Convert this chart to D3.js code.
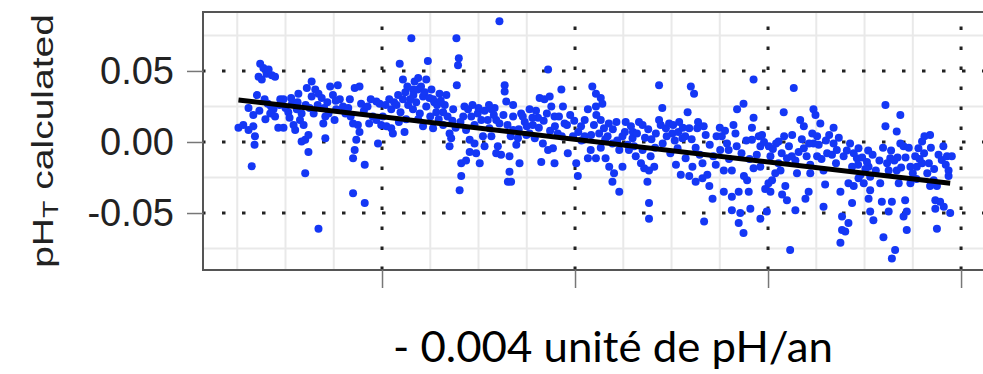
<!DOCTYPE html>
<html>
<head>
<meta charset="utf-8">
<script src="https://cdn.jsdelivr.net/npm/d3@7"></script>
<style>
  body { margin: 0; background: #fff; }
</style>
</head>
<body>
<svg id="chart"></svg>
<script>
// observations: [month since Jan 1996, pH_T anomaly]
var obs1996 = [[12.3,.010],[13.5,.012],[14.8,.0085],[16,.011],[16.4,.004],[16.3,-.002],[15.6,-.017],[14.8,.024],[16,.019],[16.9,.033],[17.7,.055],[18.5,.052],[17.3,.046],[19.3,.048],[20.6,.047],[21.4,.046],[18.1,.044],[19.8,.051],[21,.023],[21.4,.018],[22.2,.010],[23.5,.010],[22.7,.030],[24.7,.021],[26,.012],[26.4,.0085],[27.6,.0155],[28.5,.012],[28.9,.0015],[29.7,-.007],[29.7,.005],[28.9,-.022],[28,.0003],[29.3,.038],[30.5,.0425],[31.4,.037],[32.2,.034],[33,.031],[33.4,.013],[33.9,.0026],[35.1,.039],[34.7,.020],[32.2,-.061],[25.6,.027],[26.8,.023],[28,.020],[23.5,.030],[30.5,.032],[33.9,.018],
  [37,.040],[37.5,.030],[36.6,.023],[36.2,.0155],[38.3,.025],[40,.030],[41.2,.038],[42.4,.039],[42.8,.027],[40.8,.013],[42,.012],[42.4,.007],[41.6,.0015],[41.2,-.0056],[40.8,-.0115],[43.7,-.016],[40.8,-.036],[43.7,-.043],[46.6,.0285],[47.4,.027],[46.6,.0155],[47.8,.012],[47,-.001],[45.7,.018]];

var obs2000 = [[49.1,.011],[50.3,.0097],[50.7,.006],[53.6,.007],[52.4,.055],[55.3,.073],[53.2,.044],[56.1,.0425],[57,.045],[59,.044],[59.4,.057],[55.7,.037],[52,.033],[53.2,.030],[54.5,.026],[55.8,.033],[58.2,.032],[60.3,.037],[60.7,.030],[62.3,.034],[63.6,.026],[64,.033],[61.5,.021],[58.2,.011],[60.7,.0097],[63.2,.012],[64.8,.006],[65.2,.0026],[64.8,-.003],[50.3,.023],[51.6,.026],[55.7,.023],[57.4,.020],[66.5,.073],[66.9,.054],[67.1,.059],[66.6,.040],[67.7,-.015],[67.3,-.034],[67.7,-.024],[65.7,.023],[59,.025],[48.2,.018],
  [77.2,.085],[89.3,.051],[68.5,.025],[69.4,.023],[70.2,.018],[71,.012],[68.9,.0085],[69.8,.0015],[71,-.001],[71.4,-.008],[68.9,-.013],[69.8,-.007],[72.3,-.015],[73.5,-.003],[73.1,.004],[74.3,.0155],[75.2,.023],[76,.024],[76.4,.0155],[74.7,.0097],[75.2,.004],[76.8,-.003],[77.6,-.009],[76.4,-.008],[79.7,-.010],[79.7,-.021],[79.3,-.028],[80.1,-.028],[82.2,-.015],[81.4,-.002],[81.8,.0026],[80.6,.0085],[78.5,.040],[78.5,.0355],[78.9,.0285],[80.6,.026],[80.6,.018],[82.6,.020],[83.5,.014],[84.7,.023],[85.5,.012],[86.8,.017],[87.2,.031],[88.4,.030],[89.7,.032],[90.1,.025],[90.9,.018],[92.6,.037],[93,.025],[93.4,.013],[91.7,.006],[88,-.001],[89.3,-.0056],[90.5,-.0044],[87.6,-.014],[90.9,-.015],[94.2,-.008],[95.5,.004],[84.7,.006],[86,.0026],[83.9,.005],[72.7,.0155],[71.8,.020]];

var obs2004 = [[96.3,-.015],[96.7,-.024],[97.5,.011],[98.4,.0155],[99.2,.023],[99.2,-.0115],
  [100.3,.039],[101.2,.034],[102.4,.031],[102.8,.027],[101.2,.025],[102.4,.0155],[100.7,.012],[103.2,.0097],[102,.006],[104.1,.004],[105.3,-.001],[101.2,-.0115],[103.6,-.0115],[104.5,-.0174],[105.7,-.022],[105.3,-.028],[107,-.035],[107.8,-.0174],[107,-.0056],[107.8,.004],[108.6,.014],[109.9,.011],[110.3,.0026],[110.7,-.003],[111.9,.014],[112.8,.012],[111.1,-.010],[112.4,-.015],[113.2,-.0185],[114,-.028],[114.4,-.043],[114.4,-.054],[114.8,-.010],[115.7,-.0174],[116.1,.006],[116.9,.0155],[117.7,.024],[116.9,.040],[117.3,.012],[118.6,.0097],[119.4,.013],[120.2,.006],[120.4,.012],[121.9,.014],[121.5,-.0044],[121.1,-.016],[122.7,.0026],[124,.021],[124.4,.0097],[126.4,.0097],[124.8,.039],[125.6,.034],[123.5,-.0115],[125.2,-.0174],[122.3,-.023],[124.4,-.024],[126,-.028],[127.7,-.0255],[128.9,-.023],[129.4,-.031],[130.2,-.040],[128.1,-.056],[127.7,-.015],[128.5,.005],[131.2,.004],[114.4,-.020],[112.8,-.0056],[109.4,-.0056],[99.9,-.0056],
  [140.4,.044],[137.9,.027],[136.3,.023],[135.4,.012],[135.9,.006],[132.5,.004],[133.8,-.001],[134.2,-.0056],[132.1,-.0056],[133,-.020],[135,-.020],[133,-.035],[135,-.0385],[136.7,-.035],[135,-.048],[137.1,-.050],[136.7,-.057],[137.9,-.064],[139.6,-.047],[139.2,-.035],[138.8,-.027],[138,-.024],[140.4,.017],[140,.010],[140,.0015],[141.7,.004],[142.1,-.003],[142.5,.005],[140.4,-.0185],[142.1,-.0174],[143.3,-.033],[143.7,-.049],[142.1,-.054]];

var obs2008 = [[144.1,-.029],[145,-.027],[144.6,-.035],[146.6,.0003],[145.8,-.022],[147.1,-.020],[147.5,-.037],[148.7,-.041],[148.3,-.031],[150.8,-.048],[149.5,-.076],[147.9,.021],[148.7,-.0115],[149.9,-.010],[151.2,-.022],[152,.0155],[152.9,.011],[152.9,-.0044],[153.3,-.040],[154.1,-.035],[154.5,-.022],[155.3,.023],[155.8,.019],[157,.013],[155.3,-.001],[156.6,-.002],[156.2,-.010],[157.8,-.020],[158.2,-.030],[157.8,-.0455],[158.7,-.008],[159.9,-.009],[160.3,.010],[160.3,-.001],[161.1,-.0056],[162,-.035],[162.4,-.0525],[162.4,-.062],[162,-.071],[146.6,-.015],[144.6,-.010],[154.5,-.016],[150.4,.038],
  [173.2,.026],[176.9,.019],[173.2,.011],[176,.0073],[176.9,-.001],[177.7,-.003],[174.4,-.0115],[176,-.020],[174,-.020],[166.5,-.0044],[166.1,-.0115],[164.9,-.0174],[164,-.029],[165.3,-.031],[166.5,-.0255],[167.8,-.029],[169,-.0174],[169.4,-.034],[169,-.040],[164.9,-.043],[169.4,-.049],[170.2,-.055],[164,-.057],[163.2,-.063],[171.9,-.029],[172.3,-.042],[174.8,-.042],[174,-.049],[177.7,-.0525],[178.1,-.041],[178.5,-.049],[178.5,-.062],[172.7,-.067],[175.6,-.076],[174.8,-.082],[179.4,-.0174],[180.6,-.010],[181,-.0174],[181.4,-.0044],[182.3,.0003],[182.9,.004],[184.3,.005],[182.3,-.015],[184,-.015],[185.2,-.027],[186,-.031],[185.6,-.041],[186.8,-.042],[185.6,-.047],[187.7,-.0455],[189.3,-.050],[186,-.061],[187.2,-.0127],[188.5,-.010],[189.7,-.010],[188.9,-.020],[188.9,-.024],[184.3,-.031],[179.4,-.029],[176.5,-.029],[168.6,-.014],[167,-.023],[169.4,-.0245]];

// overlapping points in the crowded band along the trend
var obsDense = [[18.8,.030],[19.6,.027],[20.4,.025],[17.5,.022],[19,.016],[20.2,.020],[22.5,.026],[24,.024],[25,.017],[25.4,.031],[27,.028],[27.2,.034],[29,.026],[30,.024],[31,.020],[32,.026],[33.6,.024],[34.4,.028],[35.8,.033],[36.5,.029],[38.9,.020],[39.6,.024],[40.2,.018],[43.5,.022],[44.4,.025],[45.2,.030],[44.8,.013],
  [48.9,.026],[49.8,.030],[51,.028],[52.6,.021],[53.8,.035],[54.3,.039],[55,.030],[56.5,.028],[56.9,.037],[57.7,.039],[58.6,.035],[59.8,.031],[61,.028],[61.7,.026],[62.6,.029],[63.2,.021],[64.3,.018],[62.1,.016],[60,.018],[57,.016],[54,.016],[52.2,.014],[65.5,.015],[66.3,.010],[67.5,.014],[68.2,.018],
  [70.5,.026],[72,.024],[73.5,.022],[74.6,.026],[75.8,.019],[77.2,.013],[78.2,.019],[79.2,.012],[80,.004],[82,.009],[83,.018],[84,.011],[85.4,.017],[86.3,.022],[87,.010],[88.2,.015],[89,.020],[89.8,.008],[91,.011],[92,.018],[92.7,.004],[94,.012],[94.8,.019],[95.8,.015],[96.8,.007],[97.6,.001],[98.4,.004],
  [100,.005],[101.3,.019],[102.4,-.004],[103.5,.002],[104.4,.013],[105.4,.009],[106.3,.014],[106.5,.001],[108.4,.007],[109.1,-.002],[110.4,.007],[111.4,.006],[113.4,.003],[114.2,.009],[115,.002],[115.9,-.004],[117.8,-.001],[118.8,.004],[119.7,-.008],[120.8,.001],[121.7,.007],[122.8,.010],[123.4,.004],[125,.002],[126,-.004],[126.6,.014],[127,-.009],[128,.011],[129.5,-.002],[130.4,-.010],[131,-.016],[132,.010],[133.3,.008],[134.3,-.012],[136.2,-.003],[137.4,-.008],[138.6,.001],[139.4,-.012],[141.2,-.009],[143,.000],
  [144.2,-.003],[145.2,-.005],[146,-.001],[147.4,-.008],[148,.004],[149.2,-.003],[150,.005],[150.8,-.013],[151.6,-.007],[152.4,.002],[153.6,-.010],[154.2,-.001],[155,.006],[156.2,.004],[157.3,-.012],[158.4,.001],[159.2,.005],[160.9,-.015],[161.6,.003],[162.8,-.010],[163.6,-.006],[164.4,-.001],[165.3,-.008],[166.4,-.016],[167.4,-.011],[168.2,-.019],[168.9,-.006],[170,-.009],[170.8,-.020],[171.7,-.013],[172.6,-.004],[173.6,-.015],[174.6,-.006],[175.4,-.013],[176.2,-.011],[177.1,-.018],[178.2,-.011],[179,-.004],[180,-.022],[180.9,-.026],[181.7,-.012],[182.8,-.008],[183.6,-.022],[184.5,-.004],[185.3,-.019],[186.4,-.009],[187.6,-.003],[188.2,-.016]];

// linear trend (-0.004 pH unit / year)
var trendMonths = [12.3, 189.3];
var trendValues = [0.0296, -0.029];

var yTicks = [-0.05, 0, 0.05];
var yMinor = [-0.075, -0.025, 0.025, 0.075];
var xTicks = [48, 96, 144, 192];
var xMinor = [12, 24, 36, 60, 72, 84, 108, 120, 132, 156, 168, 180];

var slopeLabel = "- 0.004 unité de pH/an";

var W = 983, H = 374;
var margin = {top: 12, right: -7, bottom: 104, left: 203};
var width = W - margin.left - margin.right,
    height = H - margin.top - margin.bottom;

var svg = d3.select("#chart").attr("width", W).attr("height", H);
var g = svg.append("g").attr("transform", "translate(" + margin.left + "," + margin.top + ")");

var x = d3.scaleLinear().domain([3.48, 199.2]).range([0, width]);
var y = d3.scaleLinear().domain([-0.0901, 0.0915]).range([height, 0]);

// minor grid
g.selectAll(".vminor").data(xMinor).join("line")
    .attr("x1", function(d) { return x(d); }).attr("x2", function(d) { return x(d); })
    .attr("y1", 0).attr("y2", height)
    .attr("stroke", "#e9e9e9").attr("stroke-width", 2);
g.selectAll(".hminor").data(yMinor).join("line")
    .attr("y1", function(d) { return y(d); }).attr("y2", function(d) { return y(d); })
    .attr("x1", 0).attr("x2", width)
    .attr("stroke", "#e9e9e9").attr("stroke-width", 2);

// major dotted grid
g.selectAll(".vmajor").data(xTicks).join("line")
    .attr("x1", function(d) { return x(d); }).attr("x2", function(d) { return x(d); })
    .attr("y1", height).attr("y2", 0)
    .attr("stroke", "#222").attr("stroke-width", 3)
    .attr("stroke-dasharray", "3.5,16.5");
g.selectAll(".hmajor").data(yTicks).join("line")
    .attr("y1", function(d) { return y(d); }).attr("y2", function(d) { return y(d); })
    .attr("x1", 0).attr("x2", width)
    .attr("stroke", "#222").attr("stroke-width", 3)
    .attr("stroke-dasharray", "3.5,16.5").attr("stroke-dashoffset", -19);

// points
var allObs = obs1996.concat(obs2000, obs2004, obs2008, obsDense);
g.selectAll(".pt").data(allObs).join("circle")
    .attr("cx", function(d) { return x(d[0]); })
    .attr("cy", function(d) { return y(d[1]); })
    .attr("r", 4)
    .attr("fill", "#1437f5");

// trend line
g.append("line")
    .attr("x1", x(trendMonths[0])).attr("y1", y(trendValues[0]))
    .attr("x2", x(trendMonths[1])).attr("y2", y(trendValues[1]))
    .attr("stroke", "#000").attr("stroke-width", 5);

// panel border
g.append("rect")
    .attr("width", width).attr("height", height)
    .attr("fill", "none").attr("stroke", "#555").attr("stroke-width", 2);

// axes
var yAxis = g.append("g")
    .call(d3.axisLeft(y).tickValues(yTicks).tickSize(16).tickPadding(13)
        .tickFormat(function(d) { return d.toFixed(2); }));
yAxis.select(".domain").remove();
yAxis.selectAll(".tick line").attr("stroke", "#777").attr("stroke-width", 1.5);
yAxis.selectAll(".tick text")
    .attr("fill", "#222")
    .style("font-family", "'Liberation Sans', Arial, sans-serif")
    .style("font-size", "38px");

var xAxis = g.append("g")
    .attr("transform", "translate(0," + height + ")")
    .call(d3.axisBottom(x).tickValues(xTicks).tickSize(18).tickFormat(""));
xAxis.select(".domain").remove();
xAxis.selectAll(".tick line").attr("stroke", "#777").attr("stroke-width", 1.5);

// y title
var yt = svg.append("text")
    .attr("transform", "translate(53," + (margin.top + height / 2) + ") rotate(-90) scale(1.3,1)")
    .attr("text-anchor", "middle")
    .attr("fill", "#222")
    .style("font-family", "'Liberation Sans', Arial, sans-serif")
    .style("font-size", "30px");
yt.append("tspan").text("pH");
yt.append("tspan").attr("dy", 5).style("font-size", "22px").text("T");
yt.append("tspan").attr("dy", -5).text(" calculated");

// slope annotation
svg.append("text")
    .attr("x", 393).attr("y", 362)
    .attr("textLength", 440).attr("lengthAdjust", "spacingAndGlyphs")
    .attr("fill", "#000")
    .style("font-family", "Lato, 'Open Sans', sans-serif")
    .style("font-size", "42px")
    .text(slopeLabel);
</script>
</body>
</html>
